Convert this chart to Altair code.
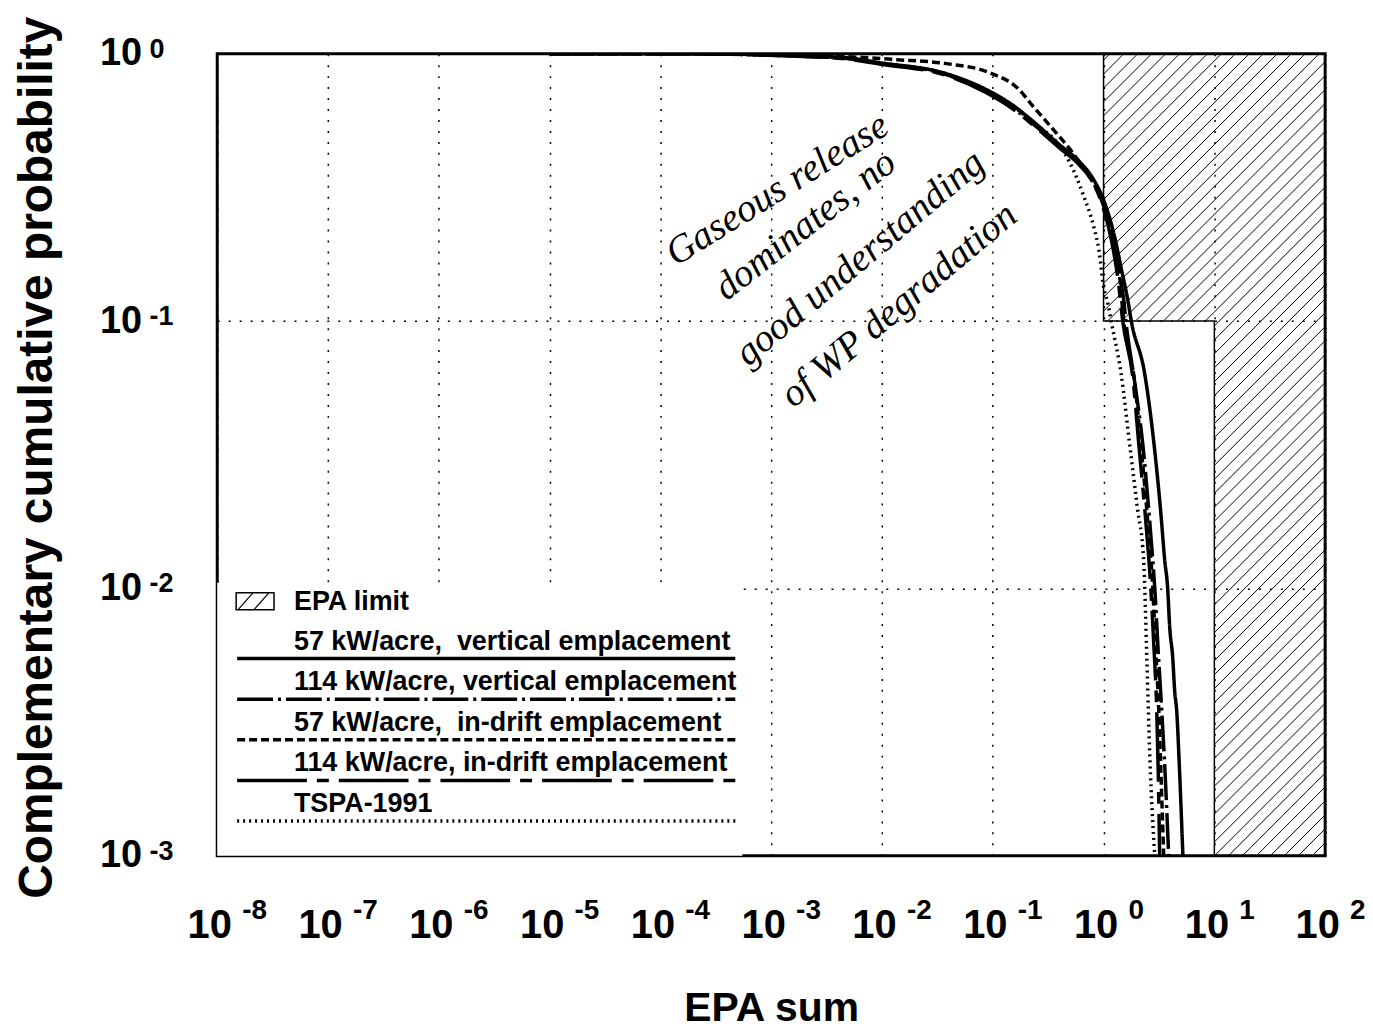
import math
import pandas as pd
import altair as alt

FONT = "Liberation Sans, Arial, Helvetica, sans-serif"
HAND = "Liberation Serif, DejaVu Serif, serif"

# ---------------- data ----------------
series_names = [
    "57 kW/acre,\u00a0 vertical emplacement",
    "114 kW/acre, vertical emplacement",
    "57 kW/acre,\u00a0 in-drift emplacement",
    "114 kW/acre, in-drift emplacement",
    "TSPA-1991",
]

v57_x = [1e-5, 2.2e-4, 1.7e-3, 4.8e-3, 9.5e-3, 0.038, 0.0875, 0.153, 0.232, 0.397, 0.60, 0.80,
         1.01, 1.24, 1.46, 1.66, 1.78, 2.35, 2.9, 3.3, 3.56, 3.79, 3.95, 4.21, 4.39, 4.57, 4.8, 5.2]
v57_y = [1.0, 0.999, 0.983, 0.966, 0.926, 0.842, 0.734, 0.64, 0.558, 0.458, 0.396, 0.342,
         0.281, 0.212, 0.154, 0.119, 0.10, 0.0636, 0.0326, 0.0188, 0.0128, 0.0100, 0.0072, 0.0055,
         0.0041, 0.0035, 0.0023, 0.001]

v114_x = [1e-5, 2.2e-4, 1.7e-3, 4.8e-3, 9.5e-3, 0.038, 0.0875, 0.153, 0.232, 0.397, 0.60, 0.80,
          1.0, 1.2, 1.4, 1.52, 1.59, 1.9, 2.26, 2.55, 2.78, 2.90, 3.1, 3.35, 3.6, 3.87]
v114_y = [1.0, 0.999, 0.98, 0.96, 0.92, 0.835, 0.72, 0.625, 0.545, 0.45, 0.39, 0.335,
          0.27, 0.205, 0.15, 0.12, 0.10, 0.06, 0.0346, 0.02, 0.0128, 0.010, 0.006, 0.0035, 0.002, 0.001]

d57_x = [1e-5, 2.2e-4, 1.7e-3, 4.8e-3, 0.0136, 0.0383, 0.0931, 0.173, 0.232, 0.351, 0.531, 0.771,
         1.0, 1.24, 1.40, 1.52, 1.9, 2.17, 2.5, 2.78, 2.95, 3.15, 3.3, 3.49]
d57_y = [1.0, 0.999, 0.99, 0.975, 0.95, 0.918, 0.85, 0.734, 0.634, 0.521, 0.424, 0.339,
         0.275, 0.2, 0.145, 0.10, 0.06, 0.0346, 0.018, 0.010, 0.006, 0.0035, 0.002, 0.001]

d114_x = [1e-5, 2.2e-4, 1.7e-3, 4.8e-3, 9.5e-3, 0.038, 0.0875, 0.153, 0.232, 0.397, 0.60, 0.80,
          0.98, 1.18, 1.36, 1.49, 1.85, 2.08, 2.4, 2.67, 2.85, 3.02, 3.12, 3.21]
d114_y = [1.0, 0.999, 0.978, 0.955, 0.915, 0.83, 0.715, 0.62, 0.54, 0.445, 0.385, 0.33,
          0.27, 0.2, 0.14, 0.10, 0.06, 0.0346, 0.018, 0.010, 0.006, 0.0035, 0.002, 0.001]

tspa_x = [1e-5, 2.2e-4, 1.7e-3, 4.8e-3, 9.5e-3, 0.038, 0.0875, 0.153, 0.232, 0.397, 0.489, 0.653,
          0.82, 0.91, 0.99, 1.10, 1.17, 1.44, 1.72, 2.02, 2.3, 2.46, 2.62, 2.9]
tspa_y = [1.0, 0.998, 0.98, 0.96, 0.925, 0.84, 0.73, 0.635, 0.552, 0.455, 0.396, 0.298,
          0.223, 0.183, 0.138, 0.115, 0.10, 0.0636, 0.0346, 0.02, 0.0128, 0.0054, 0.0023, 0.001]

# EPA limit (step boundary)
epa_x = [1, 1, 10, 10]
epa_y = [1, 0.1, 0.1, 0.001]
epa_xmax = 100

x_ticks = [1e-8, 1e-7, 1e-6, 1e-5, 1e-4, 1e-3, 1e-2, 1e-1, 1e0, 1e1, 1e2]
y_ticks = [1e-3, 1e-2, 1e-1, 1e0]

notes = ["Gaseous release", "dominates, no", "good understanding", "of WP degradation"]

# ---------------- styles ----------------
W, H = 1112, 805
dashes = [[1, 0], [36, 5, 3, 5], [8, 4], [70, 10, 12, 10], [2, 4]]
widths = [3.5, 3.5, 3.5, 3.5, 2.5]

xscale = alt.Scale(type="log", domain=[1e-8, 100], nice=False)
yscale = alt.Scale(type="log", domain=[1e-3, 1], nice=False)
dash_scale = alt.Scale(domain=series_names, range=dashes)
width_scale = alt.Scale(domain=series_names, range=widths)

# ---------------- tables ----------------
rows = []
for name, xs, ys in zip(series_names,
                        [v57_x, v114_x, d57_x, d114_x, tspa_x],
                        [v57_y, v114_y, d57_y, d114_y, tspa_y]):
    for i, (xv, yv) in enumerate(zip(xs, ys)):
        rows.append({"series": name, "x": xv, "y": yv, "i": i})
curves = pd.DataFrame(rows)

epa_df = pd.DataFrame({"x": epa_x, "y": epa_y, "i": list(range(len(epa_x)))})

# hatch lines for the EPA-limit region (45 degree lines in screen space)
LX = (-8.0, 2.0)
LY = (-3.0, 0.0)
def to_px(v):
    return (math.log10(v) - LX[0]) / (LX[1] - LX[0]) * W
def to_py(v):
    return (LY[1] - math.log10(v)) / (LY[1] - LY[0]) * H
def from_px(p):
    return 10 ** (LX[0] + p / W * (LX[1] - LX[0]))
def from_py(p):
    return 10 ** (LY[1] - p / H * (LY[1] - LY[0]))

regions = [(epa_x[0], epa_xmax, epa_y[1], epa_y[0]), (epa_x[2], epa_xmax, epa_y[3], epa_y[2])]
spacing = 14.0
hrows = []
for xa, xb, ya, yb in regions:
    x0, x1 = to_px(xa), to_px(xb)
    y0, y1 = to_py(yb), to_py(ya)
    k = math.ceil((x0 + y0) / spacing)
    while k * spacing < x1 + y1:
        c = k * spacing
        lo = max(x0, c - y1)
        hi = min(x1, c - y0)
        if hi - lo > 0.5:
            hrows.append({"x": from_px(lo), "y": from_py(c - lo),
                          "x2": from_px(hi), "y2": from_py(c - hi)})
        k += 1
hatch_df = pd.DataFrame(hrows)

xexp = pd.DataFrame({"x": x_ticks, "e": [str(round(math.log10(t))) for t in x_ticks]})
yexp = pd.DataFrame({"y": y_ticks, "e": [str(round(math.log10(t))) for t in y_ticks]})

legend_df = pd.DataFrame({"series": series_names, "row": list(range(len(series_names)))})
one = pd.DataFrame({"a": [0]})

# ---------------- axes ----------------
xaxis = alt.Axis(values=x_ticks, labelExpr="'10'", grid=True, gridDash=[2, 9], gridColor="black",
                 gridWidth=1.5, gridOpacity=1, ticks=False, domain=False,
                 labelFont=FONT, labelFontSize=40, labelFontWeight="bold", labelColor="black",
                 labelPadding=50, labelOffset=-8, labelFlush=False, labelOverlap=False,
                 title="EPA sum", titleFont=FONT, titleFontSize=41, titleFontWeight="bold",
                 titleColor="black", titleBaseline="alphabetic", titleY=165)
yaxis = alt.Axis(values=y_ticks, labelExpr="'10'", grid=True, gridDash=[2, 9], gridColor="black",
                 gridWidth=1.5, gridOpacity=1, ticks=False, domain=False,
                 labelFont=FONT, labelFontSize=38, labelFontWeight="bold", labelColor="black",
                 labelPadding=76, labelAlign="right", labelBaseline="middle",
                 labelFlush=False, labelOverlap=False,
                 title="Complementary cumulative probability", titleFont=FONT, titleFontSize=48,
                 titleFontWeight="bold", titleColor="black", titleBaseline="alphabetic",
                 titleAngle=270, titleX=-166, titleY=405)

X = alt.X("x:Q", scale=xscale, axis=xaxis)
Y = alt.Y("y:Q", scale=yscale, axis=yaxis)

# ---------------- layers ----------------
hatch = alt.Chart(hatch_df).mark_rule(color="black", strokeWidth=1, clip=True).encode(
    x=X, x2="x2:Q", y=Y, y2="y2:Q")

outline = alt.Chart(epa_df).mark_line(color="black", strokeWidth=1.5, clip=True).encode(
    x=X, y=Y, order="i:Q")

lines = alt.Chart(curves).mark_line(color="black", interpolate="monotone", clip=True).encode(
    x=X, y=Y,
    strokeDash=alt.StrokeDash("series:N", scale=dash_scale, legend=None),
    strokeWidth=alt.StrokeWidth("series:N", scale=width_scale, legend=None),
    order="i:Q")

xexp_layer = alt.Chart(xexp).mark_text(align="left", baseline="top", font=FONT, fontSize=28,
                                        fontWeight="bold", color="black", dx=25).encode(
    x=X, y=alt.value(846), text="e:N")

yexp_layer = alt.Chart(yexp).mark_text(align="left", baseline="top", font=FONT, fontSize=27,
                                        fontWeight="bold", color="black", dy=-17).encode(
    x=alt.value(-68), y=Y, text="e:N")

# legend (drawn inside the plot, bottom-left)
LEG_FS = 27
leg_bg = alt.Chart(one).mark_rect(color="white").encode(
    x=alt.value(0), x2=alt.value(527), y=alt.value(531), y2=alt.value(805))
leg_box = alt.Chart(one).mark_rect(fillOpacity=0, stroke="black", strokeWidth=1.5).encode(
    x=alt.value(19), x2=alt.value(57), y=alt.value(541), y2=alt.value(558))
leg_h1 = alt.Chart(one).mark_rule(color="black", strokeWidth=1.2).encode(
    x=alt.value(21), x2=alt.value(36), y=alt.value(558), y2=alt.value(541))
leg_h2 = alt.Chart(one).mark_rule(color="black", strokeWidth=1.2).encode(
    x=alt.value(37), x2=alt.value(52), y=alt.value(558), y2=alt.value(541))
leg_epa = alt.Chart(one).mark_text(text="EPA limit", align="left", baseline="alphabetic", font=FONT,
                                   fontSize=LEG_FS, fontWeight="bold", color="black").encode(
    x=alt.value(77), y=alt.value(558))
leg_lines = alt.Chart(legend_df).transform_calculate(ly="607 + 40.8 * datum.row").mark_rule(
    color="black").encode(
    x=alt.value(20), x2=alt.value(520), y=alt.Y("ly:Q", scale=None),
    strokeDash=alt.StrokeDash("series:N", scale=dash_scale, legend=None),
    strokeWidth=alt.StrokeWidth("series:N", scale=width_scale, legend=None))
leg_text = alt.Chart(legend_df).transform_calculate(ty="598 + 40.8 * datum.row").mark_text(
    align="left", baseline="alphabetic", font=FONT, fontSize=LEG_FS, fontWeight="bold",
    color="black").encode(
    x=alt.value(77), y=alt.Y("ty:Q", scale=None), text="series:N")

# handwritten note
note_pos = [(562, 136, 328), (590, 172, 322), (645, 205, 320), (684, 252, 320)]
note_layers = []
for txt, (nx, ny, ang) in zip(notes, note_pos):
    note_layers.append(alt.Chart(one).mark_text(text=txt, font=HAND, fontStyle="italic",
                                                fontSize=39, color="black", angle=ang,
                                                align="center", baseline="middle").encode(
        x=alt.value(nx), y=alt.value(ny)))

chart = alt.layer(
    hatch, outline, lines, xexp_layer, yexp_layer,
    leg_bg, leg_box, leg_h1, leg_h2, leg_epa, leg_lines, leg_text, *note_layers
).properties(
    width=W, height=H,
    autosize=alt.AutoSizeParams(type="none"),
    padding={"left": 210, "top": 44, "right": 40, "bottom": 172},
).configure_view(stroke="black", strokeWidth=3)

chart.save("out.html", embed_options={"renderer": "svg", "actions": False})
